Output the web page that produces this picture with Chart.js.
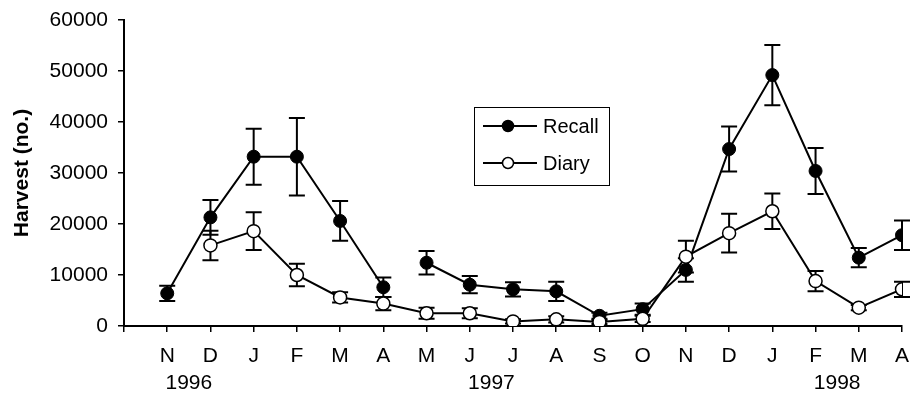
<!DOCTYPE html>
<html>
<head>
<meta charset="utf-8">
<script src="https://cdn.jsdelivr.net/npm/chart.js@4.4.0/dist/chart.umd.min.js"></script>
<style>
    html, body { margin: 0; padding: 0; background: #fff; }
    #wrap { width: 911px; height: 396px; }
</style>
</head>
<body>
<div id="wrap"><canvas id="harvestChart"></canvas></div>
<script>
// Monthly harvest estimates, Nov 1996 - Apr 1998
const months = ['N', 'D', 'J', 'F', 'M', 'A', 'M', 'J', 'J', 'A', 'S', 'O', 'N', 'D', 'J', 'F', 'M', 'A'];
const years = ['1996', '1997', '1998'];
const yearSpots = [1.5, 8.5, 16.5];

const recall = [6400, 21300, 33200, 33200, 20600, 7600, 12400, 8100, 7200, 6800, 2000, 3300, 11000, 34700, 49200, 30400, 13400, 17800];
const recallErr = [1500, 3400, 5500, 7600, 3900, 1900, 2300, 1700, 1400, 1900, 600, 1100, 2300, 4400, 5900, 4500, 1900, 2900];
const diary = [null, 15800, 18600, 10000, 5600, 4400, 2500, 2500, 900, 1300, 800, 1400, 13600, 18200, 22500, 8800, 3600, 7200];
const diaryErr = [null, 2900, 3700, 2200, 1000, 1300, 1100, 1000, 400, 600, 400, 600, 3100, 3800, 3500, 2000, 500, 1500];

const font = 'Liberation Sans, Arial, sans-serif';
const toPoints = (arr) => arr.map((y, i) => ({ x: i + 1, y: y }));

// vertical error bars with caps, drawn under the markers
const errorBars = {
    id: 'errorBars',
    beforeDatasetsDraw(chart) {
        const { ctx, scales: { x, y } } = chart;
        const errs = [recallErr, diaryErr];
        ctx.save();
        ctx.strokeStyle = '#000';
        ctx.lineWidth = 2;
        chart.data.datasets.forEach((ds, d) => {
            ds.data.forEach((p, i) => {
                const e = errs[d][i];
                if (p.y == null || e == null) return;
                const px = x.getPixelForValue(p.x);
                const top = y.getPixelForValue(p.y + e);
                const bot = y.getPixelForValue(p.y - e);
                ctx.beginPath();
                ctx.moveTo(px, top); ctx.lineTo(px, bot);
                ctx.moveTo(px - 8, top); ctx.lineTo(px + 8, top);
                ctx.moveTo(px - 8, bot); ctx.lineTo(px + 8, bot);
                ctx.stroke();
            });
        });
        ctx.restore();
    },
};

// year labels centred between the month ticks
const yearLabels = {
    id: 'yearLabels',
    afterDraw(chart) {
        const { ctx, scales: { x } } = chart;
        ctx.save();
        ctx.fillStyle = '#000';
        ctx.font = `21px ${font}`;
        ctx.textAlign = 'center';
        ctx.textBaseline = 'alphabetic';
        years.forEach((yr, i) => ctx.fillText(yr, x.getPixelForValue(yearSpots[i]), 389));
        ctx.restore();
    },
};

// boxed legend sitting inside the plot
const boxLegend = {
    id: 'boxLegend',
    afterDraw(chart) {
        const { ctx, chartArea } = chart;
        const bx = chartArea.left + 350, by = chartArea.top + 87;
        ctx.save();
        ctx.strokeStyle = '#000';
        ctx.lineWidth = 1;
        ctx.strokeRect(bx + 0.5, by + 0.5, 135, 78);
        chart.data.datasets.forEach((ds, i) => {
            const ly = by + 19 + i * 37;
            ctx.lineWidth = 2;
            ctx.beginPath();
            ctx.moveTo(bx + 9, ly); ctx.lineTo(bx + 63, ly);
            ctx.stroke();
            ctx.beginPath();
            ctx.arc(bx + 34, ly, 5.5, 0, Math.PI * 2);
            ctx.fillStyle = ds.pointBackgroundColor;
            ctx.fill();
            ctx.lineWidth = 1.5;
            ctx.stroke();
            ctx.fillStyle = '#000';
            ctx.font = `20px ${font}`;
            ctx.textBaseline = 'middle';
            ctx.fillText(ds.label, bx + 69, ly + 1);
        });
        ctx.restore();
    },
};

new Chart(document.getElementById('harvestChart'), {
    type: 'line',
    data: {
        datasets: [
            {
                label: 'Recall',
                data: toPoints(recall),
                borderColor: '#000',
                borderWidth: 2,
                pointRadius: 6.5,
                pointBackgroundColor: '#000',
                pointBorderColor: '#000',
                pointBorderWidth: 1,
                order: 2,
                // no line between Apr and May 1997
                segment: { borderColor: (c) => (c.p0DataIndex === 5 ? 'rgba(0,0,0,0)' : '#000') },
            },
            {
                label: 'Diary',
                data: toPoints(diary),
                borderColor: '#000',
                borderWidth: 2,
                pointRadius: 6.5,
                pointBackgroundColor: '#fff',
                pointBorderColor: '#000',
                pointBorderWidth: 1.5,
                order: 1,
            },
        ],
    },
    options: {
        responsive: true,
        maintainAspectRatio: false,
        animation: false,
        layout: { padding: { top: 20, right: 9, left: 0, bottom: 0 } },
        plugins: { legend: { display: false }, tooltip: { enabled: false } },
        scales: {
            x: {
                type: 'linear',
                min: 0,
                max: 18,
                afterFit: (s) => { s.height = 70; s.paddingLeft = 0; s.paddingRight = 0; },
                grid: { drawOnChartArea: false, drawTicks: true, tickLength: 6, color: '#000', lineWidth: 1.5 },
                border: { display: true, color: '#000', width: 2 },
                ticks: {
                    stepSize: 1,
                    padding: 12,
                    maxRotation: 0,
                    autoSkip: false,
                    color: '#000',
                    font: { family: font, size: 21 },
                    callback: (v) => months[v - 1] ?? '',
                },
            },
            y: {
                min: 0,
                max: 60000,
                afterFit: (s) => { s.width = 124; s.paddingTop = 0; s.paddingBottom = 0; },
                grid: { drawOnChartArea: false, drawTicks: true, tickLength: 6, color: '#000', lineWidth: 1.5 },
                border: { display: true, color: '#000', width: 2 },
                ticks: {
                    stepSize: 10000,
                    padding: 10,
                    color: '#000',
                    font: { family: font, size: 21 },
                    callback: (v) => String(v),
                },
                title: {
                    display: true,
                    text: 'Harvest (no.)',
                    color: '#000',
                    font: { family: font, size: 21, weight: 'bold' },
                    padding: { top: 10, bottom: 0 },
                },
            },
        },
    },
    plugins: [errorBars, yearLabels, boxLegend],
});
</script>
</body>
</html>
